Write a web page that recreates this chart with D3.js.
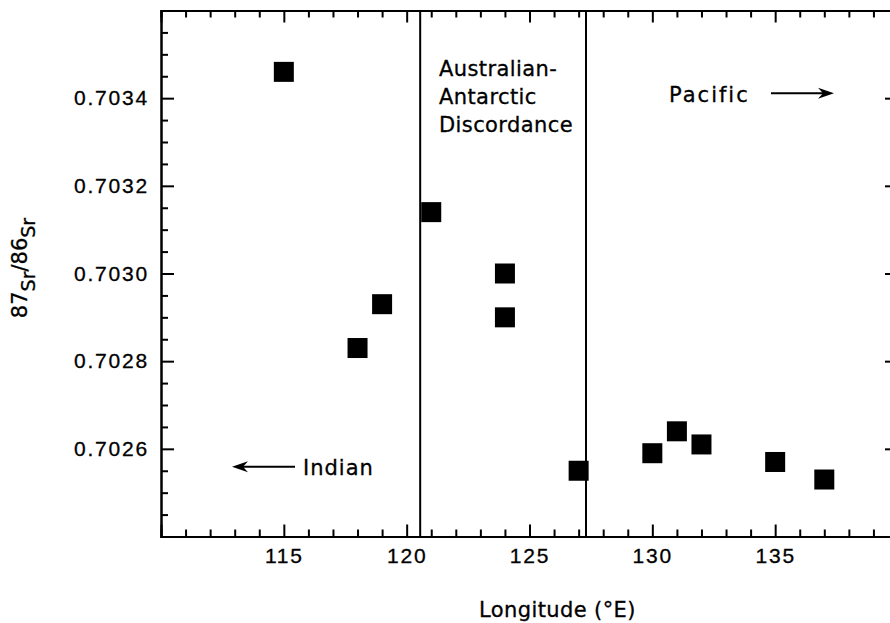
<!DOCTYPE html>
<html>
<head>
<meta charset="utf-8">
<script src="https://cdn.jsdelivr.net/npm/d3@7"></script>
<style>
  body { margin: 0; background: #fff; }
  svg { display: block; font-family: "DejaVu Sans", Verdana, sans-serif; }
  text { stroke: #000; stroke-width: 0.3px; }
</style>
</head>
<body>
<div id="chart"></div>
<script>
// data
var longitude = [115, 118, 119, 121, 124, 124, 127, 130, 131, 132, 135, 137];
var srRatio = [0.70346, 0.70283, 0.70293, 0.70314, 0.70300, 0.70290,
               0.70255, 0.70259, 0.70264, 0.70261, 0.70257, 0.70253];
var xTickLabels = [115, 120, 125, 130, 135];
var yTickLabels = [0.7026, 0.7028, 0.7030, 0.7032, 0.7034];
var boundaries = [120.55, 127.3];

var width = 890, height = 623;
var plotLeft = 161, plotRight = 898, plotTop = 10.5, plotBottom = 536.5;

var svg = d3.select("#chart")
  .append("svg")
  .attr("width", width)
  .attr("height", height);

var x = d3.scaleLinear().domain([110, 140]).range([plotLeft, plotRight]);
var y = d3.scaleLinear().domain([0.7024, 0.7036]).range([plotBottom, plotTop]);

var xMinor = d3.range(111, 140, 1).filter(function (d) { return d % 5 !== 0; });
var yMinor = d3.range(0, 25).map(function (i) { return 0.7024 + i * 0.00005; })
  .filter(function (d, i) { return i % 4 !== 0; });

function styleAxis(g) {
  g.select(".domain").attr("stroke", "#000").attr("stroke-width", 2);
  g.selectAll(".tick line").attr("stroke", "#000").attr("stroke-width", 2);
  g.selectAll(".tick text")
    .attr("fill", "#000")
    .style("font-size", "21px")
    .style("letter-spacing", "1.8px");
}

// bottom axis
svg.append("g")
  .attr("transform", "translate(0," + plotBottom + ")")
  .call(d3.axisBottom(x).tickValues(xMinor).tickSize(-7).tickFormat(""))
  .call(styleAxis);
svg.append("g")
  .attr("transform", "translate(0," + plotBottom + ")")
  .call(d3.axisBottom(x).tickValues(xTickLabels).tickSize(-12).tickPadding(12)
    .tickFormat(d3.format("d")))
  .call(styleAxis);

// top axis
svg.append("g")
  .attr("transform", "translate(0," + plotTop + ")")
  .call(d3.axisTop(x).tickValues(xMinor).tickSize(-7).tickFormat(""))
  .call(styleAxis);
svg.append("g")
  .attr("transform", "translate(0," + plotTop + ")")
  .call(d3.axisTop(x).tickValues(xTickLabels).tickSize(-12).tickFormat(""))
  .call(styleAxis);

// left axis
svg.append("g")
  .attr("transform", "translate(" + plotLeft + ",0)")
  .call(d3.axisLeft(y).tickValues(yMinor).tickSize(-7).tickFormat(""))
  .call(styleAxis);
svg.append("g")
  .attr("transform", "translate(" + plotLeft + ",0)")
  .call(d3.axisLeft(y).tickValues(yTickLabels).tickSize(-13).tickPadding(12)
    .tickFormat(d3.format(".4f")))
  .call(styleAxis);

// right axis
svg.append("g")
  .attr("transform", "translate(" + plotRight + ",0)")
  .call(d3.axisRight(y).tickValues(yMinor).tickSize(-7).tickFormat(""))
  .call(styleAxis);
svg.append("g")
  .attr("transform", "translate(" + plotRight + ",0)")
  .call(d3.axisRight(y).tickValues(yTickLabels).tickSize(-13).tickFormat(""))
  .call(styleAxis);

// province boundaries
svg.selectAll(".boundary")
  .data(boundaries)
  .enter()
  .append("line")
  .attr("class", "boundary")
  .attr("x1", function (d) { return x(d); })
  .attr("x2", function (d) { return x(d); })
  .attr("y1", plotTop)
  .attr("y2", plotBottom)
  .attr("stroke", "#000")
  .attr("stroke-width", 2);

// data points
var size = 20;
svg.selectAll(".pt")
  .data(longitude)
  .enter()
  .append("rect")
  .attr("class", "pt")
  .attr("x", function (d) { return x(d) - size / 2; })
  .attr("y", function (d, i) { return y(srRatio[i]) - size / 2; })
  .attr("width", size)
  .attr("height", size)
  .attr("fill", "#000");

// annotations
var label = svg.append("g")
  .attr("fill", "#000")
  .style("font-size", "21px")
  .style("letter-spacing", "0.4px");

label.append("text")
  .attr("x", 439).attr("y", 76)
  .selectAll("tspan")
  .data(["Australian-", "Antarctic", "Discordance"])
  .enter()
  .append("tspan")
  .attr("x", 439)
  .attr("dy", function (d, i) { return i === 0 ? 0 : 27.8; })
  .text(function (d) { return d; });

label.append("text")
  .attr("x", 669).attr("y", 101.5)
  .style("letter-spacing", "2px")
  .text("Pacific");

label.append("text")
  .attr("x", 303).attr("y", 474.5)
  .style("letter-spacing", "1px")
  .text("Indian");

function arrow(x1, x2, yy) {
  var dir = x2 > x1 ? 1 : -1;
  svg.append("line")
    .attr("x1", x1).attr("x2", x2 - dir * 6)
    .attr("y1", yy).attr("y2", yy)
    .attr("stroke", "#000").attr("stroke-width", 2);
  svg.append("path")
    .attr("d", "M" + x2 + "," + yy +
      "L" + (x2 - dir * 16) + "," + (yy - 5.5) +
      "L" + (x2 - dir * 11) + "," + yy +
      "L" + (x2 - dir * 16) + "," + (yy + 5.5) + "Z")
    .attr("fill", "#000");
}
arrow(771, 834, 93.3);
arrow(295, 232, 466.7);

// axis titles
svg.append("text")
  .attr("x", 479).attr("y", 617)
  .style("font-size", "21px")
  .style("letter-spacing", "0.4px")
  .text("Longitude (°E)");

var yt = svg.append("text")
  .attr("transform", "translate(27,268) rotate(-90)")
  .attr("text-anchor", "middle")
  .style("font-size", "21px");
yt.append("tspan").text("87");
yt.append("tspan").attr("dy", 8).style("font-size", "19px").text("Sr");
yt.append("tspan").attr("dy", -8).text("/86");
yt.append("tspan").attr("dy", 8).style("font-size", "19px").text("Sr");
</script>
</body>
</html>
